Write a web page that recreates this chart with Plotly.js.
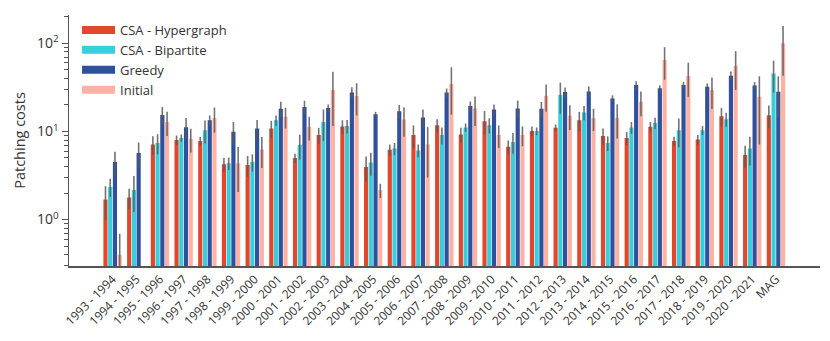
<!DOCTYPE html>
<html>
<head>
<meta charset="utf-8">
<script src="https://cdn.plot.ly/plotly-3.0.1.min.js"></script>
<style>
  html, body { margin: 0; padding: 0; background: #fff; }
  #chart { width: 830px; height: 341px; }
</style>
</head>
<body>
<div id="chart"></div>
<script>
'use strict';

const periods = [
  '1993 - 1994', '1994 - 1995', '1995 - 1996', '1996 - 1997', '1997 - 1998',
  '1998 - 1999', '1999 - 2000', '2000 - 2001', '2001 - 2002', '2002 - 2003',
  '2003 - 2004', '2004 - 2005', '2005 - 2006', '2006 - 2007', '2007 - 2008',
  '2008 - 2009', '2009 - 2010', '2010 - 2011', '2011 - 2012', '2012 - 2013',
  '2013 - 2014', '2014 - 2015', '2015 - 2016', '2016 - 2017', '2017 - 2018',
  '2018 - 2019', '2019 - 2020', '2020 - 2021', 'MAG'
];

const hypergraph = [1.69, 1.78, 7.1, 8.0, 7.8, 4.25, 4.15, 10.8, 5.0, 9.1,
  11.4, 3.95, 6.2, 9.1, 11.8, 9.25, 13.1, 6.7, 10.1, 11.0,
  13.4, 8.9, 8.45, 11.3, 7.8, 8.1, 14.9, 5.4, 15.3];
const hypergraphErr = [0.7, 0.46, 1.7, 1.0, 0.9, 0.75, 1.1, 2.4, 0.6, 1.9,
  2.0, 1.25, 0.9, 2.6, 2.0, 1.8, 4.0, 1.2, 1.3, 1.0,
  3.3, 1.9, 1.4, 1.5, 0.9, 1.0, 3.5, 1.5, 4.4];

const bipartite = [2.35, 2.17, 7.4, 8.45, 10.3, 4.35, 4.5, 13.4, 7.0, 12.8,
  11.5, 4.45, 6.4, 6.1, 9.1, 11.1, 11.8, 7.6, 10.1, 25.9,
  16.4, 7.4, 11.1, 12.5, 10.3, 10.3, 13.8, 6.4, 45.6];
const bipartiteErr = [0.55, 0.95, 1.9, 0.8, 3.0, 0.7, 1.0, 1.8, 2.2, 5.0,
  2.0, 1.3, 1.0, 1.0, 2.0, 1.2, 2.3, 2.0, 1.0, 10.0,
  3.0, 1.4, 1.7, 1.8, 3.7, 1.2, 2.5, 2.3, 18.0];

const greedy = [4.5, 5.7, 15.4, 11.2, 13.4, 9.9, 10.8, 18.1, 19.0, 18.5,
  27.7, 15.7, 17.0, 14.4, 27.7, 19.4, 17.8, 18.2, 18.1, 28.0,
  28.5, 23.7, 33.6, 31.0, 33.6, 32.1, 42.9, 33.3, 28.2];
const greedyErr = [1.4, 1.8, 3.5, 3.0, 1.8, 2.9, 2.7, 3.6, 3.3, 1.8,
  4.0, 1.0, 3.0, 3.3, 3.0, 2.5, 2.5, 4.2, 3.5, 3.5,
  4.0, 2.0, 3.5, 2.5, 3.0, 3.0, 5.0, 3.0, 14.0];

const initial = [0.4, null, 12.8, 8.25, 14.2, 4.35, 6.25, 14.7, 11.3, 29.5,
  25.2, 2.15, 13.7, 7.1, 34.5, 18.2, 9.1, 9.1, 25.4, 15.1,
  14.1, 14.3, 21.7, 64.6, 42.5, 29.5, 55.6, 24.7, 100];
const initialErr = [0.29, null, 3.9, 2.5, 4.5, 2.3, 2.4, 3.9, 3.4, 18.0,
  10.0, 0.4, 5.0, 4.1, 19.0, 6.7, 2.6, 2.3, 8.7, 4.7,
  4.0, 6.0, 6.8, 26.0, 17.8, 11.5, 26.0, 17.6, 57.0];

const series = [
  {name: 'CSA - Hypergraph', y: hypergraph, err: hypergraphErr, color: '#e2462c'},
  {name: 'CSA - Bipartite', y: bipartite, err: bipartiteErr, color: '#38cfdc'},
  {name: 'Greedy', y: greedy, err: greedyErr, color: '#2f519d'},
  {name: 'Initial', y: initial, err: initialErr, color: '#fdb2a4'}
];

const data = series.map(s => ({
  type: 'bar',
  name: s.name,
  x: periods,
  y: s.y,
  marker: {color: s.color, line: {width: 0}},
  error_y: {
    type: 'data',
    array: s.err,
    visible: true,
    color: 'rgba(90,90,90,0.85)',
    thickness: 1.6,
    width: 0
  },
  showlegend: false,
  hoverinfo: 'none'
}));

// legend entries drawn as wide flat swatches, like the original
series.forEach(s => {
  data.push({
    type: 'scatter',
    mode: 'lines',
    name: s.name,
    x: [null],
    y: [null],
    line: {color: s.color, width: 8},
    hoverinfo: 'none'
  });
});

// minor log ticks at 2..9 of each decade
const minorTicks = [];
for (let p = -1; p <= 2; p++) {
  for (let m = 2; m <= 9; m++) {
    minorTicks.push(m * Math.pow(10, p));
  }
}

const axisColor = '#555555';

const layout = {
  width: 830,
  height: 341,
  paper_bgcolor: '#ffffff',
  plot_bgcolor: '#ffffff',
  font: {family: 'Open Sans, sans-serif', color: '#333333'},
  barmode: 'group',
  bargap: 0.2,
  bargroupgap: 0.12,
  showlegend: true,
  margin: {l: 69, r: 10, t: 15, b: 75, pad: 0},
  xaxis: {
    type: 'category',
    range: [-1.84, 29.86],
    showline: true,
    linecolor: axisColor,
    linewidth: 1.5,
    showgrid: false,
    zeroline: false,
    ticks: '',
    tickangle: -45,
    tickfont: {size: 12, color: '#333333'}
  },
  yaxis: {
    type: 'log',
    range: [-0.527, 2.322],
    showline: true,
    linecolor: axisColor,
    linewidth: 1.5,
    showgrid: false,
    zeroline: false,
    ticks: 'outside',
    ticklen: 6,
    tickwidth: 1.2,
    tickcolor: axisColor,
    tickmode: 'array',
    tickvals: [1, 10, 100],
    ticktext: ['10<sup>0</sup>', '10<sup>1</sup>', '10<sup>2</sup>'],
    tickfont: {size: 14, color: '#333333'},
    minor: {
      tickmode: 'array',
      tickvals: minorTicks,
      ticks: 'outside',
      ticklen: 3.5,
      tickwidth: 1,
      tickcolor: axisColor,
      showgrid: false
    },
    title: {text: 'Patching costs', font: {size: 14.5, color: '#333333'}, standoff: 8}
  },
  legend: {
    x: 0.0107,
    y: 1.0,
    xanchor: 'left',
    yanchor: 'top',
    bgcolor: 'rgba(0,0,0,0)',
    font: {size: 13, color: '#333333'},
    itemwidth: 33,
    tracegroupgap: 0
  }
};

Plotly.newPlot('chart', data, layout, {displayModeBar: false, staticPlot: true});
</script>
</body>
</html>
